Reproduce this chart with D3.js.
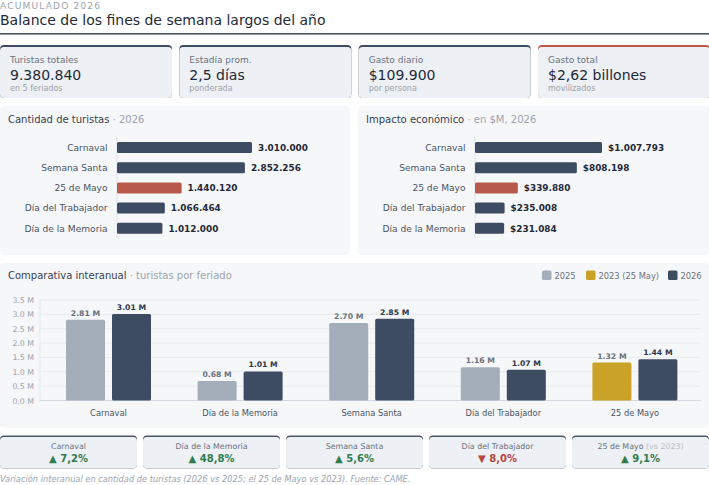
<!DOCTYPE html>
<html>
<head>
<meta charset="utf-8">
<script src="https://cdn.jsdelivr.net/npm/d3@7"></script>
<style>
  html, body { margin: 0; padding: 0; background: #fff; }
  svg { display: block; font-family: "DejaVu Sans", sans-serif; }
</style>
</head>
<body>
<div id="chart"></div>
<script>
// tarjetas de resumen
var kpiLabels = ["Turistas totales", "Estadía prom.", "Gasto diario", "Gasto total"];
var kpiValues = ["9.380.840", "2,5 días", "$109.900", "$2,62 billones"];
var kpiSubs   = ["en 5 feriados", "ponderada", "por persona", "movilizados"];

// ranking 2026
var rankCats     = ["Carnaval", "Semana Santa", "25 de Mayo", "Día del Trabajador", "Día de la Memoria"];
var rankTuristas = [3010000, 2852256, 1440120, 1066464, 1012000];
var rankImpacto  = [1007793, 808198, 339880, 235008, 231084];   // en $M
var rankHighlight = "25 de Mayo";

// comparativa interanual
var compCats  = ["Carnaval", "Día de la Memoria", "Semana Santa", "Día del Trabajador", "25 de Mayo"];
var compPrev  = [2810000, 680000, 2700000, 1160000, 1320000];
var compPrevYear = ["2025", "2025", "2025", "2025", "2023"];
var compCur   = [3010000, 1010000, 2850000, 1070000, 1440000];
var yTicks    = [0, 500000, 1000000, 1500000, 2000000, 2500000, 3000000, 3500000];
var legendLabels = ["2025", "2023 (25 May)", "2026"];

// variación interanual (%)
var varCats   = ["Carnaval", "Día de la Memoria", "Semana Santa", "Día del Trabajador", "25 de Mayo"];
var varValues = [7.2, 48.8, 5.6, -8.0, 9.1];
var varNotes  = ["", "", "", "", " (vs 2023)"];

var DARK = "#3e4c63", RED = "#b85a4b", GREY = "#a4aebb", GOLD = "#c9a227";
var yearColor = { "2025": GREY, "2023": GOLD, "2026": DARK };

var es = d3.formatLocale({ decimal: ",", thousands: ".", grouping: [3], currency: ["$", ""] });
var fmtInt = es.format(",.0f");
var fmtMoney = es.format("$,.0f");
var fmtPct = es.format(".1f");

var width = 709, height = 485;
var svg = d3.select("#chart").append("svg")
    .attr("width", width)
    .attr("height", height);

// cabecera
svg.append("text")
    .attr("x", 0).attr("y", 9)
    .attr("font-size", 9).attr("letter-spacing", 1.2)
    .attr("fill", "#9aa3ad")
    .text("ACUMULADO 2026");
svg.append("text")
    .attr("x", 0).attr("y", 25)
    .attr("font-size", 14).attr("fill", "#1f2937")
    .text("Balance de los fines de semana largos del año");
svg.append("rect")
    .attr("x", 0).attr("y", 33).attr("width", width).attr("height", 1.6)
    .attr("fill", "#4a5668");

// tarjeta con borde superior
function card(x, y, w, h, border, bw) {
    svg.append("rect").attr("x", x).attr("y", y).attr("width", w).attr("height", h)
        .attr("rx", 4).attr("fill", border);
    svg.append("rect").attr("x", x).attr("y", y + bw).attr("width", w).attr("height", h - bw)
        .attr("rx", 4).attr("fill", "#edf0f4");
}

var kpiW = 172, kpiGap = 7.33;
kpiLabels.forEach(function(d, i) {
    var x = i * (kpiW + kpiGap);
    card(x, 45, kpiW, 53, i == 3 ? "#c0584a" : DARK, 2);
    svg.append("text").attr("x", x + 10).attr("y", 63)
        .attr("font-size", 9).attr("fill", "#6b7280").text(d);
    svg.append("text").attr("x", x + 10).attr("y", 80)
        .attr("font-size", 14).attr("fill", "#1f2937").text(kpiValues[i]);
    svg.append("text").attr("x", x + 10).attr("y", 90.5)
        .attr("font-size", 8).attr("fill", "#9ca3af").text(kpiSubs[i]);
});

// paneles
function panel(x, y, w, h) {
    svg.append("rect").attr("x", x).attr("y", y).attr("width", w).attr("height", h)
        .attr("rx", 4).attr("fill", "#f6f7f9");
}
function panelTitle(x, y, main, sub) {
    var t = svg.append("text").attr("x", x).attr("y", y).attr("font-size", 10);
    t.append("tspan").attr("fill", "#374151").text(main);
    t.append("tspan").attr("fill", "#9ca3af").text(" · " + sub);
}

panel(0, 106, 350, 149);
panel(358, 106, 351, 149);
panelTitle(8, 123, "Cantidad de turistas", "2026");
panelTitle(366, 123, "Impacto económico", "en $M, 2026");

function hbar(x0, barW, values, fmt) {
    var y = d3.scaleBand()
        .domain(rankCats)
        .range([137.4, 238.4])
        .paddingInner(0.455)
        .paddingOuter(0.2275);
    var x = d3.scaleLinear()
        .domain([0, d3.max(values)])
        .range([x0, x0 + barW]);

    var g = svg.append("g");
    g.append("line")
        .attr("x1", x0).attr("x2", x0)
        .attr("y1", 137).attr("y2", 238)
        .attr("stroke", "#dde1e6");

    g.selectAll(".lbl").data(rankCats).enter().append("text")
        .attr("x", x0 - 9.5)
        .attr("y", function(d) { return y(d) + y.bandwidth() / 2 + 3.3; })
        .attr("text-anchor", "end")
        .attr("font-size", 9.1).attr("fill", "#4b5563")
        .text(function(d) { return d; });

    g.selectAll(".bar").data(values).enter().append("rect")
        .attr("x", x0)
        .attr("y", function(d, i) { return y(rankCats[i]); })
        .attr("width", function(d) { return x(d) - x0; })
        .attr("height", y.bandwidth())
        .attr("rx", 1.5)
        .attr("fill", function(d, i) { return rankCats[i] == rankHighlight ? RED : DARK; });

    g.selectAll(".val").data(values).enter().append("text")
        .attr("x", function(d) { return x(d) + 6; })
        .attr("y", function(d, i) { return y(rankCats[i]) + y.bandwidth() / 2 + 3.2; })
        .attr("font-size", 8.9).attr("font-weight", "bold").attr("fill", "#1f2937")
        .text(function(d) { return fmt(d); });
}
hbar(117, 135, rankTuristas, fmtInt);
hbar(475, 127, rankImpacto, fmtMoney);

// comparativa
panel(0, 263, 709, 165);
panelTitle(8, 279, "Comparativa interanual", "turistas por feriado");

var legColors = [GREY, GOLD, DARK];
var legX = [542, 586, 668];
legendLabels.forEach(function(d, i) {
    svg.append("rect").attr("x", legX[i]).attr("y", 270.5).attr("width", 9.5).attr("height", 9.5)
        .attr("rx", 1.5).attr("fill", legColors[i]);
    svg.append("text").attr("x", legX[i] + 12.5).attr("y", 279)
        .attr("font-size", 8.3).attr("fill", "#6b7280").text(d);
});

var yScale = d3.scaleLinear().domain([0, 3500000]).range([400.5, 300]);
var x0 = d3.scaleBand().domain(compCats).range([42.7, 700.7])
    .paddingInner(0.354).paddingOuter(0.177);
var x1 = d3.scaleBand().domain([0, 1]).range([0, x0.bandwidth()]).paddingInner(0.152);

var cg = svg.append("g");
cg.selectAll(".grid").data(yTicks).enter().append("line")
    .attr("x1", 40).attr("x2", 701)
    .attr("y1", function(d) { return yScale(d); })
    .attr("y2", function(d) { return yScale(d); })
    .attr("stroke", function(d) { return d == 0 ? "#d5d9df" : "#e8ebef"; });
cg.append("line").attr("x1", 40).attr("x2", 40)
    .attr("y1", 300).attr("y2", 400.5).attr("stroke", "#e2e5ea");

var yAxis = d3.axisLeft(yScale)
    .tickValues(yTicks)
    .tickSize(0)
    .tickPadding(6)
    .tickFormat(function(d) { return d3.format(".1f")(d / 1e6) + " M"; });
var ya = cg.append("g").attr("transform", "translate(40,0)").call(yAxis);
ya.select(".domain").remove();
ya.selectAll("text").attr("font-size", 7.8).attr("fill", "#9ca3af")
    .attr("font-family", "DejaVu Sans");

var xAxis = d3.axisBottom(x0).tickSize(0).tickPadding(10);
var xa = cg.append("g").attr("transform", "translate(0,400.5)").call(xAxis);
xa.select(".domain").remove();
xa.selectAll("text").attr("font-size", 8.3).attr("fill", "#4b5563")
    .attr("font-family", "DejaVu Sans");

var groups = cg.selectAll(".grp").data(compCats).enter().append("g")
    .attr("transform", function(d) { return "translate(" + x0(d) + ",0)"; });

groups.append("rect")
    .attr("x", x1(0)).attr("width", x1.bandwidth())
    .attr("y", function(d, i) { return yScale(compPrev[i]); })
    .attr("height", function(d, i) { return yScale(0) - yScale(compPrev[i]); })
    .attr("rx", 1.5)
    .attr("fill", function(d, i) { return yearColor[compPrevYear[i]]; });
groups.append("rect")
    .attr("x", x1(1)).attr("width", x1.bandwidth())
    .attr("y", function(d, i) { return yScale(compCur[i]); })
    .attr("height", function(d, i) { return yScale(0) - yScale(compCur[i]); })
    .attr("rx", 1.5)
    .attr("fill", yearColor["2026"]);

groups.append("text")
    .attr("x", x1(0) + x1.bandwidth() / 2)
    .attr("y", function(d, i) { return yScale(compPrev[i]) - 4; })
    .attr("text-anchor", "middle")
    .attr("font-size", 7.7).attr("font-weight", "bold").attr("fill", "#6b7280")
    .text(function(d, i) { return d3.format(".2f")(compPrev[i] / 1e6) + " M"; });
groups.append("text")
    .attr("x", x1(1) + x1.bandwidth() / 2)
    .attr("y", function(d, i) { return yScale(compCur[i]) - 4; })
    .attr("text-anchor", "middle")
    .attr("font-size", 7.7).attr("font-weight", "bold").attr("fill", "#2d3748")
    .text(function(d, i) { return d3.format(".2f")(compCur[i] / 1e6) + " M"; });

// variación
var vW = 137, vGap = 6;
varCats.forEach(function(d, i) {
    var x = i * (vW + vGap);
    card(x, 435.5, vW, 33, "#4a5568", 1.5);
    var t = svg.append("text").attr("x", x + vW / 2).attr("y", 449)
        .attr("text-anchor", "middle").attr("font-size", 7.9);
    t.append("tspan").attr("fill", "#6b7280").text(d);
    if (varNotes[i]) t.append("tspan").attr("fill", "#b8bec7").text(varNotes[i]);
    var up = varValues[i] >= 0;
    svg.append("text").attr("x", x + vW / 2).attr("y", 462)
        .attr("text-anchor", "middle")
        .attr("font-size", 10).attr("font-weight", "bold")
        .attr("fill", up ? "#2f7d4f" : "#b8463a")
        .text((up ? "▲ " : "▼ ") + fmtPct(Math.abs(varValues[i])) + "%");
});

svg.append("text")
    .attr("x", 0).attr("y", 482)
    .attr("font-size", 8.25).attr("font-style", "italic").attr("fill", "#9ca3af")
    .text("Variación interanual en cantidad de turistas (2026 vs 2025; el 25 de Mayo vs 2023). Fuente: CAME.");
</script>
</body>
</html>
